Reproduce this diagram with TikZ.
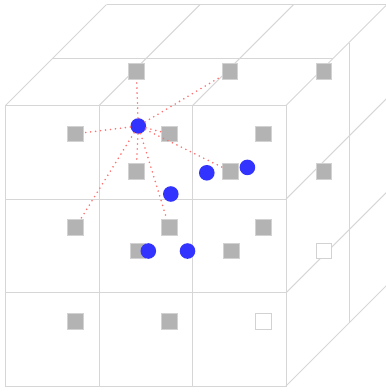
\documentclass[tikz,border=0pt]{standalone}
\usetikzlibrary{calc}
\definecolor{gridc}{HTML}{D6D6D6}
\definecolor{sqfill}{HTML}{B3B3B3}
\definecolor{sqedge}{HTML}{D2D2D2}
\definecolor{dotc}{HTML}{FF7070}
\definecolor{ballc}{HTML}{3333FF}
\tikzset{
  gridline/.style={draw=gridc, line width=1pt},
  sq/.style={rectangle, minimum size=15.5pt, inner sep=0pt, fill=sqfill, draw=sqedge, line width=0.8pt},
  hsq/.style={rectangle, minimum size=15.5pt, inner sep=0pt, fill=white, draw=sqedge, line width=0.9pt},
  ball/.style={circle, minimum size=15.6pt, inner sep=0pt, fill=ballc},
  dotline/.style={draw=dotc, line width=1.8pt, line cap=round, dash pattern=on 0pt off 5pt}
}
\begin{document}
\begin{tikzpicture}[x=1pt,y=-1pt]
\useasboundingbox (0,0) rectangle (386,392);
\clip (0,0) rectangle (386,392);
% front face
\draw[gridline] (5.5,105.5) rectangle (286,386);
\draw[gridline] (99.2,105.5) -- (99.2,386);
\draw[gridline] (192.7,105.5) -- (192.7,386);
\draw[gridline] (5.5,199.2) -- (286,199.2);
\draw[gridline] (5.5,292.8) -- (286,292.8);
% top face
\foreach \x in {5.5,99.2,192.7,286}{
  \draw[gridline] (\x,105.5) -- ++(101,-101);
}
\draw[gridline] (106.5,4.5) -- (390,4.5);
\draw[gridline] (52.7,58.3) -- (333.2,58.3);
% right face
\foreach \y in {199.2,292.8,386}{
  \draw[gridline] (286,\y) -- ++(101,-101);
}
\draw[gridline] (349,42.5) -- (349,323);
% squares
\node[sq] (s11) at (136.3,71.2) {};
\node[sq] (s12) at (230,71.2) {};
\node[sq] (s13) at (324,71.2) {};
\node[sq] (f11) at (75.5,133.8) {};
\node[sq] (f12) at (169.3,133.8) {};
\node[sq] (f13) at (263.2,133.8) {};
\node[sq] (s21) at (136.3,171.2) {};
\node[sq] (s22) at (230.2,171.2) {};
\node[sq] (s23) at (324,171.2) {};
\node[sq] (f21) at (75.5,227.5) {};
\node[sq] (f22) at (169.3,227.5) {};
\node[sq] (f23) at (263.2,227.5) {};
\node[sq] (s31) at (137.8,251) {};
\node[sq] (s32) at (231.5,251) {};
\node[hsq] (s33) at (324,251) {};
\node[sq] (f31) at (75.5,321.2) {};
\node[sq] (f32) at (169.3,321.2) {};
\node[hsq] (f33) at (263.2,321.2) {};
% balls
\node[ball] (c1) at (138.3,126) {};
\node[ball] (c2) at (170.8,194) {};
\node[ball] (c3) at (206.8,172.8) {};
\node[ball] (c4) at (247.4,167.4) {};
\node[ball] (c5) at (148.3,251) {};
\node[ball] (c6) at (187.5,251) {};
% dotted links
\foreach \t in {s11,s12,f11,f12,s21,s22,f21,f22}{
  \draw[dotline] (c1) -- (\t);
}
\end{tikzpicture}
\end{document}
